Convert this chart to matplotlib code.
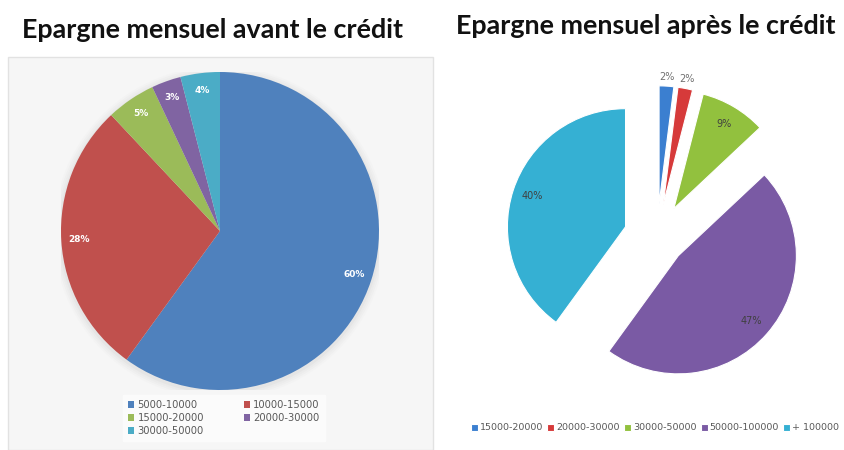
import matplotlib
matplotlib.use("Agg")
import matplotlib.pyplot as plt
from matplotlib.patches import Rectangle
import numpy as np

left_title = "Epargne mensuel avant le crédit"
right_title = "Epargne mensuel après le crédit"
left_labels = ["5000-10000", "10000-15000", "15000-20000", "20000-30000", "30000-50000"]
left_values = [60, 28, 5, 3, 4]
right_labels = ["15000-20000", "20000-30000", "30000-50000", "50000-100000", "+ 100000"]
right_values = [2, 2, 9, 47, 40]
left_colors = ["#4f81bd", "#c0504d", "#9bbb59", "#8064a2", "#4bacc6"]
right_colors = ["#3b7fd0", "#d63a3a", "#92c13e", "#7a5aa4", "#35b0d3"]

W, H = 845, 450
fig = plt.figure(figsize=(8.45, 4.5), dpi=100)
fig.patch.set_facecolor("white")


def px(x0, y0, w, h):
    return [x0 / W, 1 - (y0 + h) / H, w / W, h / H]


# gray panel behind left chart
fig.patches.append(Rectangle((8 / W, 0), 425 / W, 393 / H, transform=fig.transFigure,
                             facecolor="#f6f6f6", edgecolor="#e2e2e2", lw=1, zorder=-5))

title_font = dict(family="Lato", weight="bold", size=19.4, color="#111111")
fig.text(213 / W, 1 - 30 / H, left_title, ha="center", va="center", **title_font)
fig.text(646 / W, 1 - 26 / H, right_title, ha="center", va="center", **title_font)

# ---- left pie ----
axL = fig.add_axes(px(61, 72, 318, 318))
axL.set_zorder(2)
axL.axis("off")
for i, a in enumerate([0.05, 0.04, 0.03, 0.02]):
    axL.add_patch(plt.Circle((0.0, -0.01), 1.0 + 0.012 * (i + 1), color="#888888", alpha=a, lw=0))
wL, tL, aL = axL.pie(left_values, colors=left_colors, startangle=90, counterclock=False,
                     autopct="%1.0f%%", pctdistance=0.89, radius=1.0,
                     textprops=dict(color="white", fontsize=6.5, weight="bold", family="DejaVu Sans"))
axL.set_xlim(-1, 1)
axL.set_ylim(-1, 1)

order = [0, 2, 4, 1, 3]
legL = fig.legend([wL[i] for i in order], [left_labels[i] for i in order], ncol=2,
                  loc="center", bbox_to_anchor=(224 / W, 1 - 418 / H),
                  frameon=True, fancybox=False, facecolor="#fdfdfd", edgecolor="#fdfdfd",
                  fontsize=7.2, handlelength=0.6, handleheight=0.6, handletextpad=0.3,
                  columnspacing=4.0, labelspacing=0.3, borderpad=0.5)
legL.set_zorder(3)
for t in legL.get_texts():
    t.set_color("#595959")

# ---- right pie ----
axR = fig.add_axes(px(468, 48, 378, 378))
axR.axis("off")
wR, tR, aR = axR.pie(right_values, colors=right_colors, startangle=90, counterclock=False,
                     explode=[0.28, 0.28, 0.28, 0.24, 0.28], autopct="%1.0f%%", pctdistance=0.83,
                     radius=1.0, wedgeprops=dict(edgecolor="white", linewidth=0.8),
                     textprops=dict(color="#404040", fontsize=7, family="DejaVu Sans"))
for w, t, v in zip(wR, aR, right_values):
    if v < 5:
        mid = np.deg2rad((w.theta1 + w.theta2) / 2)
        cx, cy = w.center
        t.set_position((cx + 1.08 * np.cos(mid), cy + 1.08 * np.sin(mid)))
        t.set_color("#707070")
axR.set_xlim(-1.6, 1.6)
axR.set_ylim(-1.6, 1.6)

legR = fig.legend(wR, right_labels, ncol=5, loc="center", bbox_to_anchor=(655 / W, 1 - 428 / H),
                  frameon=False, fontsize=6.8, handlelength=0.75, handleheight=0.75,
                  handletextpad=0.2, columnspacing=0.45)
for t in legR.get_texts():
    t.set_color("#595959")

fig.savefig("out.png", dpi=100, facecolor="white")
